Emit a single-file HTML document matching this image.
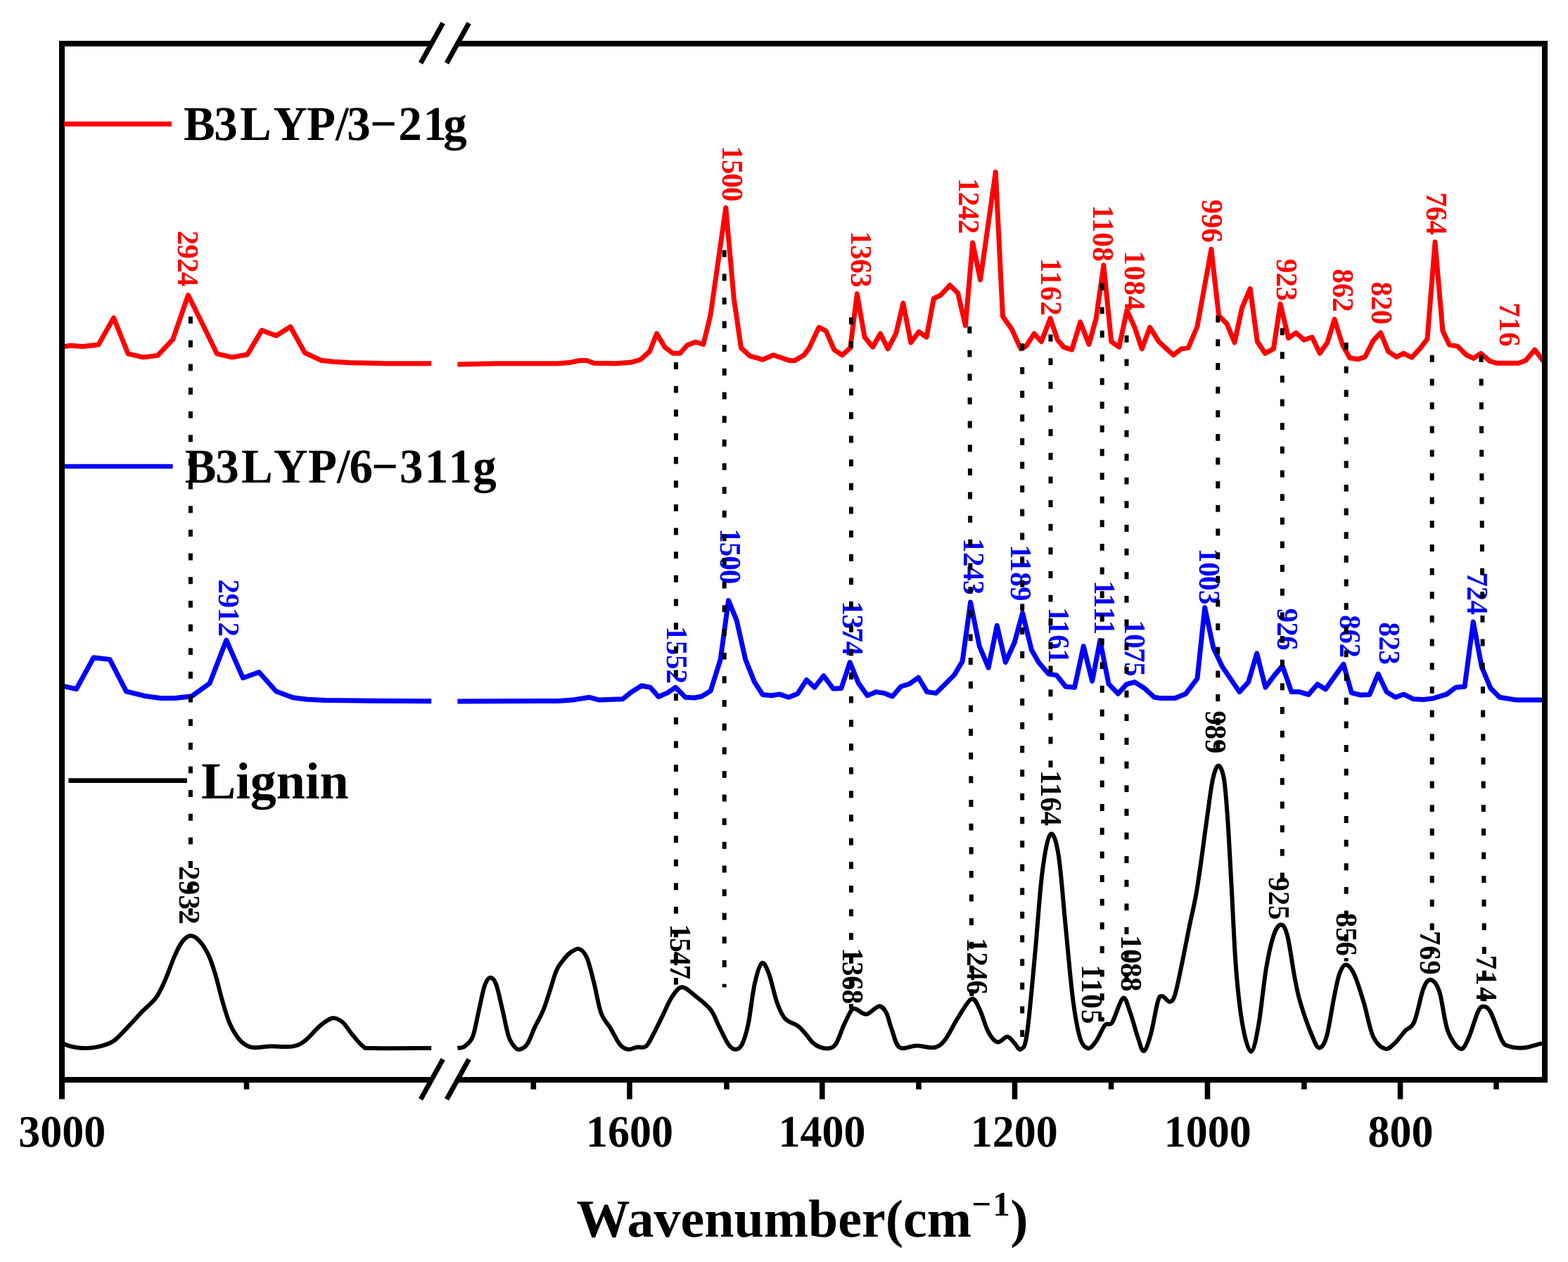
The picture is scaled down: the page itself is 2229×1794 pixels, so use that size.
<!DOCTYPE html><html><head><meta charset="utf-8"><title>FTIR spectra</title><style>html,body{margin:0;padding:0;background:#fff}svg{display:block}text{font-family:'Liberation Serif','Times New Roman',serif;font-weight:bold;text-rendering:geometricPrecision}</style></head><body>
<svg width="2229" height="1794" viewBox="0 0 2229 1794">
<rect width="2229" height="1794" fill="#fff"/>
<g fill="none" stroke-linejoin="miter" stroke-miterlimit="3">
<path d="M88.9,493.1 L99.1,491.3 L118.3,492.6 L140,490 L161.6,451.8 L182,502.8 L203.7,507.9 L224.1,505.4 L245.8,482.4 L267.5,419.5 L289.2,463.3 L308.3,502.8 L330,507.9 L351.7,504 L372.1,469.6 L392.5,477.3 L412.9,464.5 L433.3,501.5 L456.3,512.2 L474.1,514.3 L495.8,515.6 L529,516.3 L546.8,516.8 L613.2,516.8 M650.4,518.1 L706.5,516.8 L793.3,516.8 L808.6,515.6 L823.9,512.5 L834.1,512.5 L844.3,516.3 L874.9,516.8 L897.9,515 L910.6,511.2 L923.4,499.7 L933.6,474.2 L945,493.4 L956.5,502.3 L966.7,502.3 L976.9,490.8 L988.4,486.2 L999.9,489.5 L1010.1,447.4 L1031.8,295.3 L1043.3,424.5 L1053.5,494.6 L1066.2,506.1 L1084.1,511.2 L1099.4,504.8 L1122.3,512.5 L1130,512.5 L1142.8,504.8 L1150.4,494.6 L1164.2,465.3 L1174.2,470.4 L1185.7,497.2 L1197.2,504.8 L1208.7,494.6 L1218.4,417.6 L1229.1,479.3 L1240.6,493.4 L1251.5,474.2 L1262.2,495.9 L1273.7,474.2 L1283.9,430.9 L1294.9,487 L1306.1,471.7 L1317.1,479.3 L1327.3,424.5 L1337.5,419.4 L1350.3,405.4 L1361.7,416.8 L1372.4,462.8 L1382.7,345 L1393.6,397.7 L1415.3,244.6 L1425.5,450 L1438.3,467.9 L1451,495.9 L1458.7,492.1 L1470.2,474.2 L1480.4,485.7 L1493.1,452.6 L1503.3,483.2 L1512.2,493.4 L1523.7,497.2 L1535.7,457.7 L1548,489.5 L1558.2,452.6 L1568.9,377 L1579.8,485.7 L1590.8,493.4 L1602,441.1 L1613,465.3 L1623.2,495.9 L1634.7,465.3 L1647.4,485.7 L1667.9,504.8 L1679.3,495.9 L1689.2,494.6 L1702,464 L1721.9,354.3 L1732.6,448.7 L1744,460.2 L1755,487 L1765.7,437.2 L1777.2,410.5 L1787.4,485.7 L1798.4,502.3 L1810.4,495.9 L1820.1,432.1 L1831.6,480.6 L1842.3,473 L1853.7,483.2 L1865.2,479.3 L1876.2,502.3 L1886.9,487 L1897.1,453.8 L1908.6,490.8 L1918.8,508.7 L1930.3,510.7 L1940.5,507.4 L1952,484.4 L1962.7,473 L1973.6,499.7 L1985.1,507.4 L1995.3,502.3 L2006.8,508.2 L2018.3,495.9 L2029,481.9 L2040,344.1 L2050.9,470.4 L2060.4,490.3 L2071.9,492.1 L2084.6,504.8 L2094.8,509.4 L2105,502.3 L2117.8,513.3 L2128,516.3 L2158.6,516.3 L2168.8,512.5 L2181.6,497.2 L2194.3,513.8" stroke="#f00" stroke-width="7" stroke-linejoin="round"/>
<path d="M88.9,975.2 L108.6,979.5 L133.1,934.8 L156,937.4 L179.5,982.8 L205,989.2 L228,992.5 L248.4,992.5 L272.6,989.7 L298.1,971.3 L321.8,910.1 L345.3,963.7 L368.3,955.5 L392.5,982.8 L416.7,991.7 L437.1,994.3 L462.7,995.6 L526.4,996.3 L613.2,996.8 M650.4,997.1 L793.3,996.4 L813.7,995.1 L837.9,991.3 L851.9,995.1 L885.1,993.8 L897.9,983.6 L911.9,974.7 L924.6,977.2 L936.1,990.5 L948.9,984.9 L960.4,977.2 L974.4,991.3 L987.1,992 L997.3,990 L1010.1,982.3 L1024.1,937.7 L1035.6,853.5 L1047.1,881.6 L1059.8,937.7 L1072.6,969.6 L1084.1,987.4 L1096.8,988.7 L1108.3,986.9 L1121.1,991.3 L1133.8,986.2 L1146.6,966.5 L1158,977.2 L1170.8,960.7 L1184.4,979 L1195.9,978.5 L1208.2,941.5 L1220.2,970.9 L1232.9,988.7 L1245.7,983.6 L1257.1,985.4 L1268.6,990 L1280.6,976 L1292.9,972.1 L1305.6,963.2 L1317.9,983.6 L1330.6,985.4 L1343.9,972.1 L1356.6,959.4 L1368.1,940.3 L1379.6,856.1 L1392.3,918.6 L1405.1,949.2 L1417.3,889.2 L1429.3,941.5 L1442.1,913.5 L1453.6,871.4 L1466.3,923.7 L1476.5,941.5 L1490.6,958.1 L1502,959.9 L1514.8,976 L1527.6,977.2 L1540.3,918.6 L1552.6,968.3 L1563.8,910.4 L1576,972.1 L1589.3,986.2 L1601.5,972.7 L1613,969.6 L1627,978.5 L1641.1,991.3 L1650,992.6 L1670.4,992.6 L1685.7,986.2 L1702,964.5 L1712.7,863.7 L1724.9,921.1 L1737.7,947.9 L1761.9,983.6 L1774.7,969.6 L1786.7,928.8 L1798.9,977.2 L1811.7,959.9 L1823.1,946.6 L1835.9,983.6 L1847.4,983.6 L1860.1,987.4 L1872.9,972.7 L1884.4,979.8 L1897.1,961.9 L1909.9,944.1 L1921.3,984.9 L1934.1,988 L1946.9,987.4 L1959.1,958.1 L1971.1,983.6 L1983.8,991.3 L1995.3,986.9 L2009.4,993.8 L2023.4,994.6 L2036.1,993.1 L2056.6,986.9 L2069.3,977.2 L2082.1,976 L2094.3,884.1 L2106.3,947.9 L2119,978.5 L2131.8,991.3 L2156,995.1 L2194.3,995.1" stroke="#00f" stroke-width="7" stroke-linejoin="round"/>
<path d="M90.2,1483.6 C91.9,1484.2 95.7,1486.3 100.4,1487.4 C105.1,1488.5 111.9,1489.9 118.3,1490 C124.7,1490.1 131.5,1489.9 138.7,1488.2 C145.9,1486.5 153.9,1484.9 161.6,1479.7 C169.2,1474.5 177.8,1463.8 184.6,1456.8 C191.4,1449.8 196.2,1444.1 202.4,1437.7 C208.6,1431.3 216.3,1425.7 221.6,1418.5 C226.9,1411.3 229.8,1404.3 234.3,1394.3 C238.8,1384.3 244.3,1367.8 248.4,1358.6 C252.5,1349.4 255.1,1344.1 258.6,1339.4 C262.1,1334.7 265.5,1331.1 269.3,1330.5 C273.1,1329.9 277.1,1331.3 281.5,1335.6 C285.9,1339.8 291.6,1347.9 295.6,1356 C299.7,1364.1 302.4,1373 305.8,1384.1 C309.2,1395.1 312.6,1410.6 316,1422.3 C319.4,1434 322.6,1445.5 326.2,1454.2 C329.8,1462.9 333.7,1469.3 337.7,1474.6 C341.7,1479.9 346.1,1483.7 350.4,1486.1 C354.6,1488.5 357.7,1489 363.2,1489.2 C368.7,1489.4 374.7,1487.7 383.6,1487.4 C392.5,1487.1 408.2,1488.9 416.7,1487.4 C425.2,1485.9 428.2,1483.4 434.6,1478.5 C441,1473.6 448.6,1463.3 455,1458.1 C461.4,1452.9 467.6,1448.1 472.9,1447.3 C478.2,1446.5 482.2,1449.1 486.9,1453 C491.6,1456.9 496,1465.1 500.9,1470.8 C505.8,1476.5 511.5,1484.2 516.2,1487.4 C520.9,1490.6 512.8,1489.6 529,1490 C545.2,1490.4 599.2,1490 613.2,1490 M650.4,1490 C652.1,1489.6 657,1490.2 660.6,1487.4 C664.2,1484.6 668.7,1482.1 672.1,1473.4 C675.5,1464.7 678.2,1447 681,1435.1 C683.8,1423.2 686.1,1409.5 688.7,1401.9 C691.3,1394.3 694,1390.1 696.8,1389.7 C699.6,1389.3 702.4,1391.8 705.3,1399.4 C708.2,1407 711.2,1422.8 714.2,1435.1 C717.2,1447.4 720.1,1464.5 723.1,1473.4 C726.1,1482.3 729.2,1485.7 732,1488.7 C734.8,1491.8 736.7,1492.6 739.7,1491.7 C742.7,1490.8 746.5,1488.8 749.9,1483.6 C753.3,1478.4 756.5,1468.2 760.1,1460.6 C763.7,1452.9 768.2,1445.8 771.6,1437.7 C775,1429.6 777.3,1421.7 780.5,1412.1 C783.7,1402.5 787.5,1387.9 790.7,1380.3 C793.9,1372.7 796.6,1370.2 799.6,1366.2 C802.6,1362.2 804.8,1358.9 808.6,1356 C812.4,1353.1 818.4,1348.1 822.6,1348.9 C826.9,1349.8 830.5,1353.1 834.1,1361.1 C837.7,1369.1 840.9,1383.6 844.3,1396.8 C847.7,1410 850.7,1429.6 854.5,1440.2 C858.3,1450.8 862.7,1453.2 867.2,1460.6 C871.7,1468 877,1479.6 881.3,1484.8 C885.6,1490 888.8,1491 892.8,1491.7 C896.8,1492.4 901.2,1489.4 905.5,1488.7 C909.8,1488 914.5,1490.4 918.3,1487.4 C922.1,1484.4 924.7,1477.8 928.5,1470.8 C932.3,1463.8 936.8,1454.2 941.2,1445.3 C945.7,1436.4 950.5,1424.2 955.2,1417.2 C959.9,1410.2 964,1403.6 969.3,1403.2 C974.6,1402.8 980.3,1409.4 987.1,1414.7 C993.9,1420 1004.1,1427.4 1010.1,1435.1 C1016.1,1442.8 1018.6,1452.3 1022.9,1460.6 C1027.1,1468.9 1031.9,1479.6 1035.6,1484.8 C1039.3,1490 1042.1,1491.7 1045.3,1491.7 C1048.5,1491.7 1051.6,1490.8 1054.7,1484.8 C1057.8,1478.8 1060.7,1469.7 1063.7,1455.5 C1066.7,1441.3 1069.4,1413.8 1072.6,1399.4 C1075.8,1385 1079.4,1371.8 1082.8,1369.3 C1086.2,1366.8 1089.4,1374.8 1093,1384.1 C1096.6,1393.4 1100.7,1414.3 1104.5,1424.9 C1108.3,1435.5 1111.1,1442.4 1116,1447.9 C1120.9,1453.4 1129.1,1454.7 1133.8,1458.1 C1138.5,1461.5 1140.4,1464.3 1144,1468.3 C1147.6,1472.3 1151.9,1478.9 1155.5,1482.3 C1159.1,1485.7 1161.9,1487.4 1165.7,1488.7 C1169.5,1490 1174.3,1491.1 1178.1,1490.3 C1181.9,1489.5 1184.7,1489.4 1188.3,1483.9 C1191.9,1478.4 1196.1,1465 1199.7,1457.1 C1203.3,1449.2 1207.2,1440.5 1210,1436.7 C1212.8,1432.9 1212.7,1433.4 1216.3,1434.2 C1219.9,1435 1226.1,1442.4 1231.6,1441.8 C1237.1,1441.2 1244.8,1430.8 1249.5,1430.4 C1254.2,1430 1256.7,1434 1259.7,1439.3 C1262.7,1444.6 1264.1,1453.9 1267.3,1462.2 C1270.5,1470.5 1272.8,1485 1278.8,1489 C1284.8,1493 1294.8,1486.5 1303.1,1486.5 C1311.4,1486.5 1321.8,1490.5 1328.6,1489 C1335.4,1487.5 1338.4,1484.6 1343.9,1477.6 C1349.4,1470.6 1355.5,1456.5 1361.7,1446.9 C1367.9,1437.3 1375.8,1422.3 1380.9,1420.2 C1386,1418.1 1388.3,1426.4 1392.3,1434.2 C1396.3,1442 1400.8,1459.4 1405.1,1467.3 C1409.4,1475.2 1413.4,1480.3 1417.9,1481.4 C1422.4,1482.5 1427.9,1473.5 1431.9,1473.7 C1435.9,1473.9 1438.9,1479.7 1442.1,1482.7 C1445.3,1485.7 1448,1493.7 1451,1491.6 C1454,1489.5 1456.5,1492.7 1459.9,1469.9 C1463.3,1447.2 1467.8,1393.4 1471.4,1355.1 C1475,1316.8 1478,1268.4 1481.6,1240.3 C1485.2,1212.2 1489.3,1190.5 1493.1,1186.2 C1496.9,1182 1501,1193 1504.6,1214.8 C1508.2,1236.6 1511.4,1282.8 1514.8,1316.8 C1518.2,1350.8 1521.6,1392.5 1525,1418.9 C1528.4,1445.3 1531.6,1463.1 1535.2,1475 C1538.8,1486.9 1542.9,1489.5 1546.7,1490.3 C1550.5,1491.1 1554.2,1485.6 1558.2,1480.1 C1562.2,1474.6 1567.1,1461.6 1570.9,1457.1 C1574.7,1452.6 1576.8,1459.7 1581.1,1453.3 C1585.3,1446.9 1592.2,1421.2 1596.4,1418.9 C1600.7,1416.6 1603.2,1430.4 1606.6,1439.3 C1610,1448.2 1613.6,1463.3 1616.8,1472.4 C1620,1481.5 1622.6,1494.5 1625.8,1494.1 C1629,1493.7 1632.6,1481.8 1636,1469.9 C1639.4,1458 1643.4,1431.6 1646.2,1422.7 C1649,1413.8 1649.8,1416.1 1652.6,1416.3 C1655.4,1416.5 1659.8,1424.4 1662.8,1424 C1665.8,1423.6 1667.4,1423.1 1670.4,1413.8 C1673.4,1404.5 1677.2,1384.1 1680.6,1367.9 C1684,1351.7 1687.5,1332.8 1690.8,1316.8 C1694.1,1300.8 1697.3,1288.4 1700.2,1272.1 C1703.1,1255.8 1705.6,1237.6 1708.2,1219.1 C1710.8,1200.5 1713.4,1179.4 1716.1,1160.8 C1718.8,1142.2 1721.4,1119.7 1724.1,1107.7 C1726.8,1095.7 1729.3,1088.6 1732,1088.6 C1734.7,1088.6 1737.8,1094.8 1740,1107.7 C1742.2,1120.6 1743.5,1140.9 1745.3,1166.1 C1747.1,1191.3 1748.6,1223.6 1750.6,1258.9 C1752.6,1294.2 1754.5,1345.1 1757.2,1378.2 C1759.9,1411.3 1763,1438.3 1766.5,1457.8 C1770,1477.2 1774.7,1494.9 1778.4,1494.9 C1782.2,1494.9 1785.5,1477.2 1789,1457.8 C1792.5,1438.3 1796.2,1399.4 1799.7,1378.2 C1803.2,1357 1806.8,1341.1 1810.3,1330.5 C1813.8,1319.9 1817.6,1314.6 1820.9,1314.6 C1824.2,1314.6 1826.9,1317.7 1830.2,1330.5 C1833.5,1343.3 1837.7,1375.6 1840.8,1391.5 C1843.9,1407.4 1844.7,1412.7 1848.7,1425.9 C1852.7,1439.2 1860.2,1460.4 1864.6,1471 C1869,1481.6 1871.7,1489.1 1875.2,1489.6 C1878.7,1490 1882.3,1485.6 1885.8,1473.7 C1889.3,1461.8 1893.3,1433 1896.4,1418 C1899.5,1403 1901.5,1391.2 1904.4,1383.5 C1907.3,1375.8 1910.2,1371.1 1913.7,1371.6 C1917.2,1372 1921.4,1377.2 1925.6,1386.2 C1929.8,1395.2 1934.5,1411.3 1938.9,1425.9 C1943.3,1440.5 1947,1462.9 1952.1,1473.7 C1957.2,1484.5 1964.1,1489.6 1969.4,1490.9 C1974.7,1492.2 1979.4,1485.8 1984,1481.6 C1988.6,1477.4 1992.8,1470.5 1997.2,1465.7 C2001.6,1460.9 2006.1,1462.7 2010.5,1452.5 C2014.9,1442.3 2019.7,1414.7 2023.7,1404.7 C2027.7,1394.8 2030.5,1391.9 2034.3,1392.8 C2038.1,1393.7 2042.3,1397.8 2046.3,1410 C2050.3,1422.2 2053.2,1452.2 2058.2,1465.7 C2063.1,1479.2 2071.1,1489.1 2076,1490.9 C2080.9,1492.7 2083.3,1484.9 2087.4,1476.3 C2091.5,1467.7 2097.1,1446.8 2100.6,1439.2 C2104.1,1431.6 2105.5,1430.7 2108.6,1430.7 C2111.7,1430.7 2114.8,1431.2 2119.2,1439.2 C2123.6,1447.2 2130.7,1471 2135.1,1479 C2139.5,1487 2140.8,1485.7 2145.7,1487.5 C2150.6,1489.3 2158.6,1489.8 2164.3,1489.6 C2170.1,1489.4 2175.6,1487.5 2180.2,1486.4 C2184.8,1485.3 2190.1,1483.6 2192.1,1483" stroke="#000" stroke-width="6" stroke-linejoin="round"/>
</g>
<g>
<text transform="translate(253.3,327.8) rotate(90) scale(1,1.04)" font-size="41" fill="#f00" textLength="79.5" lengthAdjust="spacing">2924</text>
<text transform="translate(1027.1,207.4) rotate(90) scale(1,1.04)" font-size="41" fill="#f00" textLength="79.1" lengthAdjust="spacing">1500</text>
<text transform="translate(1210.1,328.6) rotate(90) scale(1,1.04)" font-size="41" fill="#f00" textLength="80.1" lengthAdjust="spacing">1363</text>
<text transform="translate(1362.5,253.2) rotate(90) scale(1,1.04)" font-size="41" fill="#f00" textLength="79.4" lengthAdjust="spacing">1242</text>
<text transform="translate(1480.1,366.9) rotate(90) scale(1,1.04)" font-size="41" fill="#f00" textLength="81.8" lengthAdjust="spacing">1162</text>
<text transform="translate(1553.7,291.6) rotate(90) scale(1,1.04)" font-size="41" fill="#f00" textLength="80.1" lengthAdjust="spacing">1108</text>
<text transform="translate(1598.6,356.6) rotate(90) scale(1,1.04)" font-size="41" fill="#f00" textLength="84.6" lengthAdjust="spacing">1084</text>
<text transform="translate(1709.2,283.6) rotate(90) scale(1,1.04)" font-size="41" fill="#f00" textLength="61.3" lengthAdjust="spacing">996</text>
<text transform="translate(1814.9,367.8) rotate(90) scale(1,1.04)" font-size="41" fill="#f00" textLength="60.1" lengthAdjust="spacing">923</text>
<text transform="translate(1895,382.3) rotate(90) scale(1,1.04)" font-size="41" fill="#f00" textLength="61.2" lengthAdjust="spacing">862</text>
<text transform="translate(1949.7,400.6) rotate(90) scale(1,1.04)" font-size="41" fill="#f00" textLength="60.6" lengthAdjust="spacing">820</text>
<text transform="translate(2027.7,273.4) rotate(90) scale(1,1.04)" font-size="41" fill="#f00" textLength="60.7" lengthAdjust="spacing">764</text>
<text transform="translate(2132.2,430.2) rotate(90) scale(1,1.04)" font-size="41" fill="#f00" textLength="62.6" lengthAdjust="spacing">716</text>
<text transform="translate(310.7,823.4) rotate(90) scale(1,1.04)" font-size="41" fill="#00f" textLength="81.6" lengthAdjust="spacing">2912</text>
<text transform="translate(948,890.2) rotate(90) scale(1,1.04)" font-size="41" fill="#00f" textLength="81.9" lengthAdjust="spacing">1552</text>
<text transform="translate(1023.9,751.2) rotate(90) scale(1,1.04)" font-size="41" fill="#00f" textLength="79.0" lengthAdjust="spacing">1500</text>
<text transform="translate(1198.1,854.5) rotate(90) scale(1,1.04)" font-size="41" fill="#00f" textLength="77.5" lengthAdjust="spacing">1374</text>
<text transform="translate(1369.8,765.2) rotate(90) scale(1,1.04)" font-size="41" fill="#00f" textLength="80.2" lengthAdjust="spacing">1243</text>
<text transform="translate(1437.3,774.2) rotate(90) scale(1,1.04)" font-size="41" fill="#00f" textLength="80.2" lengthAdjust="spacing">1189</text>
<text transform="translate(1491.3,863.5) rotate(90) scale(1,1.04)" font-size="41" fill="#00f" textLength="79.6" lengthAdjust="spacing">1161</text>
<text transform="translate(1555.5,825.2) rotate(90) scale(1,1.04)" font-size="41" fill="#00f" textLength="77.0" lengthAdjust="spacing">1111</text>
<text transform="translate(1599.3,881.4) rotate(90) scale(1,1.04)" font-size="41" fill="#00f" textLength="80.4" lengthAdjust="spacing">1075</text>
<text transform="translate(1704.7,779.4) rotate(90) scale(1,1.04)" font-size="41" fill="#00f" textLength="80.1" lengthAdjust="spacing">1003</text>
<text transform="translate(1815.6,864.4) rotate(90) scale(1,1.04)" font-size="41" fill="#00f" textLength="60.1" lengthAdjust="spacing">926</text>
<text transform="translate(1905.1,874.3) rotate(90) scale(1,1.04)" font-size="41" fill="#00f" textLength="60.8" lengthAdjust="spacing">862</text>
<text transform="translate(1960.7,884.5) rotate(90) scale(1,1.04)" font-size="41" fill="#00f" textLength="60.5" lengthAdjust="spacing">823</text>
<text transform="translate(2085.8,813.4) rotate(90) scale(1,1.04)" font-size="41" fill="#00f" textLength="60.7" lengthAdjust="spacing">724</text>
<text transform="translate(255.1,1231) rotate(90) scale(1,1.04)" font-size="41" fill="#000" textLength="82.9" lengthAdjust="spacing">2932</text>
<text transform="translate(953.1,1313.8) rotate(90) scale(1,1.04)" font-size="41" fill="#000" textLength="78.5" lengthAdjust="spacing">1547</text>
<text transform="translate(1198,1347.2) rotate(90) scale(1,1.04)" font-size="41" fill="#000" textLength="80.1" lengthAdjust="spacing">1368</text>
<text transform="translate(1375,1333.2) rotate(90) scale(1,1.04)" font-size="41" fill="#000" textLength="80.8" lengthAdjust="spacing">1246</text>
<text transform="translate(1480.2,1095) rotate(90) scale(1,1.04)" font-size="41" fill="#000" textLength="79.0" lengthAdjust="spacing">1164</text>
<text transform="translate(1537.5,1371.5) rotate(90) scale(1,1.04)" font-size="41" fill="#000" textLength="84.1" lengthAdjust="spacing">1105</text>
<text transform="translate(1594,1329.3) rotate(90) scale(1,1.04)" font-size="41" fill="#000" textLength="80.2" lengthAdjust="spacing">1088</text>
<text transform="translate(1713.9,1010.3) rotate(90) scale(1,1.04)" font-size="41" fill="#000" textLength="60.9" lengthAdjust="spacing">989</text>
<text transform="translate(1804,1246.4) rotate(90) scale(1,1.04)" font-size="41" fill="#000" textLength="61.2" lengthAdjust="spacing">925</text>
<text transform="translate(1900.1,1297.8) rotate(90) scale(1,1.04)" font-size="41" fill="#000" textLength="61.2" lengthAdjust="spacing">856</text>
<text transform="translate(2019.1,1323.3) rotate(90) scale(1,1.04)" font-size="41" fill="#000" textLength="62.5" lengthAdjust="spacing">769</text>
<text transform="translate(2099.4,1357.8) rotate(90) scale(1,1.04)" font-size="41" fill="#000" textLength="65.7" lengthAdjust="spacing">714</text>
</g>
<g stroke="#000" stroke-width="6" stroke-dasharray="9.9 23.75" fill="none">
<path d="M270.9,450.1 L270.9,1306"/>
<path d="M960.9,515 L960.9,1400"/>
<path d="M1029.7,355.6 L1029.7,1403.5"/>
<path d="M1210,451.3 L1210,1434"/>
<path d="M1378.3,464 L1381.3,1420"/>
<path d="M1453.2,488.3 L1453.2,1485"/>
<path d="M1493.5,475.5 L1493.5,1091"/>
<path d="M1566.7,402.8 L1566.7,1452"/>
<path d="M1601.5,476.8 L1601.5,1419"/>
<path d="M1731.3,448.7 L1731.3,1076"/>
<path d="M1822.8,466.6 L1822.8,1250"/>
<path d="M1913.7,487 L1913.7,1366.5"/>
<path d="M2035.7,504.8 L2035.7,1382"/>
<path d="M2105.5,504.8 L2110.3,1428.6"/>
</g>
<g stroke="#000" stroke-width="8" fill="none" stroke-linecap="butt">
<path d="M88,58 V1562.6"/>
<path d="M2196,58 V1539"/>
<path d="M84,62 H613.4 M650.4,62 H2200"/>
<path d="M84,1535 H613.4 M650.4,1535 H2200"/>
</g>
<g stroke="#000" stroke-width="7.6" fill="none">
<path d="M895,1539 V1562.6"/>
<path d="M1168.8,1539 V1562.6"/>
<path d="M1442.5,1539 V1562.6"/>
<path d="M1716.5,1539 V1562.6"/>
<path d="M1990.6,1539 V1562.6"/>
<path d="M350.5,1539 V1548.6"/>
<path d="M758.3,1539 V1548.6"/>
<path d="M1033,1539 V1548.6"/>
<path d="M1306,1539 V1548.6"/>
<path d="M1579.6,1539 V1548.6"/>
<path d="M1853.9,1539 V1548.6"/>
<path d="M2127,1539 V1548.6"/>
</g>
<g stroke="#000" stroke-width="7" fill="none">
<path d="M598,89.7 L629.7,32.8 M635,89.7 L666.6,32.8"/>
<path d="M598,1562.7 L629.7,1505.8 M635,1562.7 L666.6,1505.8"/>
</g>
<path d="M91,176.2 H244" stroke="#f00" stroke-width="7"/>
<path d="M92,663 H245.6" stroke="#00f" stroke-width="6.4"/>
<path d="M97.4,1109.7 H266" stroke="#000" stroke-width="6.7"/>
<text transform="translate(0,198.8) scale(1,1.03)" x="260.9 304.3 341 388.5 436 477 493.2 526.1 566.2 601.6 630.2" y="0" font-size="67" fill="#000">B3LYP/3−21g</text>
<text transform="translate(0,685.9) scale(1,1.03)" x="262.8 306.3 343 389 437.9 478.9 496.6 528 568 603.8 637.5 672.2" y="0" font-size="67" fill="#000">B3LYP/6−311g</text>
<text x="285.9" y="1134.6" font-size="74" fill="#000">Lignin</text>
<text transform="translate(0,1630.2) scale(1,1.03)" x="26.2" y="0" font-size="62" fill="#000">3000</text>
<text transform="translate(0,1630.2) scale(1,1.03)" x="832.9" y="0" font-size="62" fill="#000">1600</text>
<text transform="translate(0,1630.2) scale(1,1.03)" x="1106.6" y="0" font-size="62" fill="#000">1400</text>
<text transform="translate(0,1630.2) scale(1,1.03)" x="1379.7" y="0" font-size="62" fill="#000">1200</text>
<text transform="translate(0,1630.2) scale(1,1.03)" x="1654.7" y="0" font-size="62" fill="#000">1000</text>
<text transform="translate(0,1630.2) scale(1,1.03)" x="1944.5" y="0" font-size="62" fill="#000">800</text>
<text x="819.6" y="1758.3" font-size="76" fill="#000">Wavenumber(cm</text>
<text x="1381.3 1411.2" y="1727.6" font-size="49" fill="#000">−1</text>
<text x="1436.3" y="1758.3" font-size="76" fill="#000">)</text>
</svg></body></html>
